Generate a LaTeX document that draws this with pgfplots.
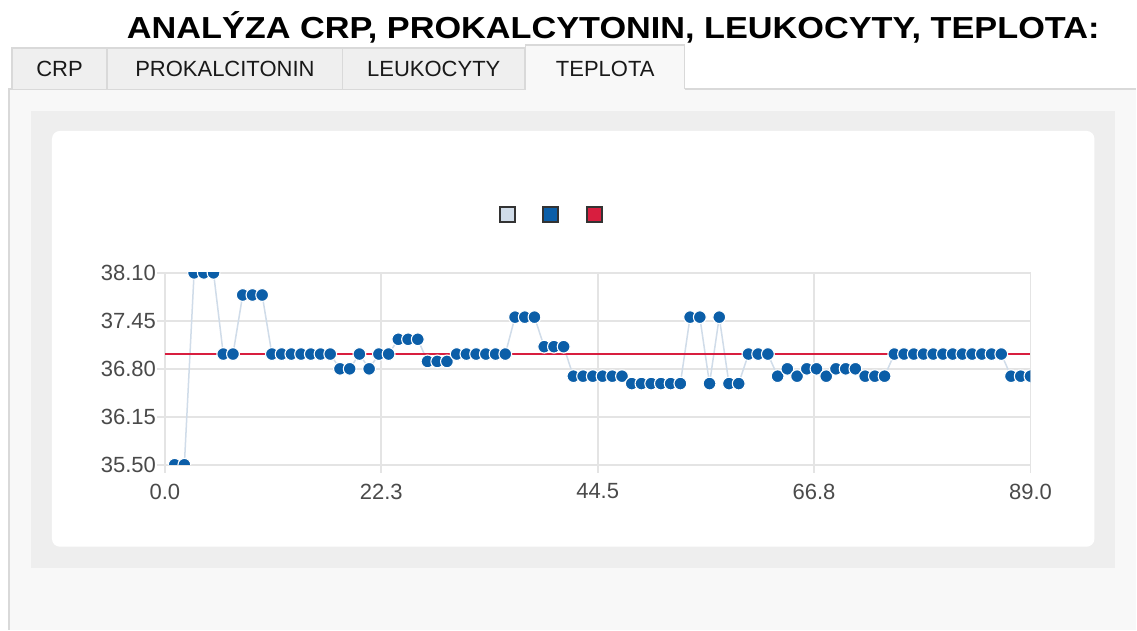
\documentclass[border=0pt]{standalone}
\usepackage{pgfplots}
\pgfplotsset{compat=1.18}
\usepackage{fontspec}
\setmainfont{Liberation Sans}
\definecolor{gridc}{HTML}{E4E4E4}
\definecolor{panelbg}{HTML}{F8F8F8}
\definecolor{tabbg}{HTML}{EFEFEF}
\definecolor{tabline}{HTML}{D9D9D9}
\definecolor{boxbg}{HTML}{EEEEEE}
\definecolor{linec}{HTML}{D0DCE9}
\definecolor{bluec}{HTML}{0B5EA8}
\definecolor{redc}{HTML}{D81E3F}
\definecolor{labc}{HTML}{4A4A4A}
\definecolor{legbd}{HTML}{333333}

\pgfplotstableread{
x y
1 35.5
2 35.5
3 38.1
4 38.1
5 38.1
6 37.0
7 37.0
8 37.8
9 37.8
10 37.8
11 37.0
12 37.0
13 37.0
14 37.0
15 37.0
16 37.0
17 37.0
18 36.8
19 36.8
20 37.0
21 36.8
22 37.0
23 37.0
24 37.2
25 37.2
26 37.2
27 36.9
28 36.9
29 36.9
30 37.0
31 37.0
32 37.0
33 37.0
34 37.0
35 37.0
36 37.5
37 37.5
38 37.5
39 37.1
40 37.1
41 37.1
42 36.7
43 36.7
44 36.7
45 36.7
46 36.7
47 36.7
48 36.6
49 36.6
50 36.6
51 36.6
52 36.6
53 36.6
54 37.5
55 37.5
56 36.6
57 37.5
58 36.6
59 36.6
60 37.0
61 37.0
62 37.0
63 36.7
64 36.8
65 36.7
66 36.8
67 36.8
68 36.7
69 36.8
70 36.8
71 36.8
72 36.7
73 36.7
74 36.7
75 37.0
76 37.0
77 37.0
78 37.0
79 37.0
80 37.0
81 37.0
82 37.0
83 37.0
84 37.0
85 37.0
86 37.0
87 36.7
88 36.7
89 36.7
}\temps

\pgfplotstableread{
x y
0 37.0
89 37.0
}\refline

\begin{document}
\begin{tikzpicture}
\begin{scope}[x=0.5pt,y=-0.5pt]
  % background
  \fill[white] (0,0) rectangle (1137,630);
  \fill[panelbg] (9,89) rectangle (1137,630);
  \draw[tabline, line width=0.6pt] (9,630) -- (9,89) -- (1137,89);
  % tabs
  \filldraw[fill=tabbg, draw=tabline, line width=0.6pt] (12,89) -- (12,48) -- (107,48) -- (107,89);
  \filldraw[fill=tabbg, draw=tabline, line width=0.6pt] (107,89) -- (107,48) -- (343,48) -- (343,89);
  \filldraw[fill=tabbg, draw=tabline, line width=0.6pt] (343,89) -- (343,48) -- (525,48) -- (525,89);
  \fill[panelbg] (526,45) rectangle (685,90);
  \draw[tabline, line width=0.6pt] (526,90) -- (526,45) -- (685,45) -- (685,89);
  \node[anchor=base, font=\fontsize{11}{13}\selectfont, text=black!90] at (59.5,77) {CRP};
  \node[anchor=base, font=\fontsize{11}{13}\selectfont, text=black!90] at (225,77) {PROKALCITONIN};
  \node[anchor=base, font=\fontsize{11}{13}\selectfont, text=black!90] at (434,77) {LEUKOCYTY};
  \node[anchor=base, font=\fontsize{11}{13}\selectfont, text=black!90] at (605.5,77) {TEPLOTA};
  % title
  \node[anchor=base, inner sep=0pt] at (613.5,38.5) {\resizebox{486.5pt}{\height}{\fontsize{15.2}{18}\selectfont\bfseries ANALÝZA CRP, PROKALCYTONIN, LEUKOCYTY, TEPLOTA:}};
  % boxes
  \fill[boxbg] (31,111) rectangle (1116,568);
  \fill[white, rounded corners=4pt] (52,131) rectangle (1095,547);
  % legend
  \filldraw[fill=linec, draw=legbd, line width=0.9pt] (500,207) rectangle (515,222);
  \filldraw[fill=bluec, draw=legbd, line width=0.9pt] (543,207) rectangle (558,222);
  \filldraw[fill=redc, draw=legbd, line width=0.9pt] (587,207) rectangle (602,222);
\end{scope}
\begin{axis}[
  at={(82.5pt,-232.5pt)}, anchor=south west,
  scale only axis, width=433pt, height=96pt,
  xmin=0, xmax=89, ymin=35.5, ymax=38.1,
  xtick={0,22.25,44.5,66.75,89},
  xticklabels={0.0,22.3,44.5,66.8,89.0},
  ytick={35.5,36.15,36.8,37.45,38.1},
  yticklabels={35.50,36.15,36.80,37.45,38.10},
  xtick pos=bottom, ytick pos=left,
  grid=major,
  major grid style={gridc, line width=0.9pt},
  axis line style={gridc, line width=0.9pt},
  tick style={gridc, line width=0.9pt},
  tick align=outside, major tick length=4pt,
  clip marker paths=true,
  x tick label style={font=\fontsize{11}{13}\selectfont, text=labc, yshift=-2pt},
  y tick label style={font=\fontsize{11}{13}\selectfont, text=labc, xshift=3pt},
]
\addplot[linec, line width=0.75pt, no marks] table[x=x,y=y] {\temps};
\addplot[redc, line width=0.9pt, no marks] table[x=x,y=y] {\refline};
\addplot[only marks, mark=*, mark size=3.2pt, mark options={fill=bluec, draw=white, line width=0.55pt}] table[x=x,y=y] {\temps};
\end{axis}
\end{tikzpicture}
\end{document}
